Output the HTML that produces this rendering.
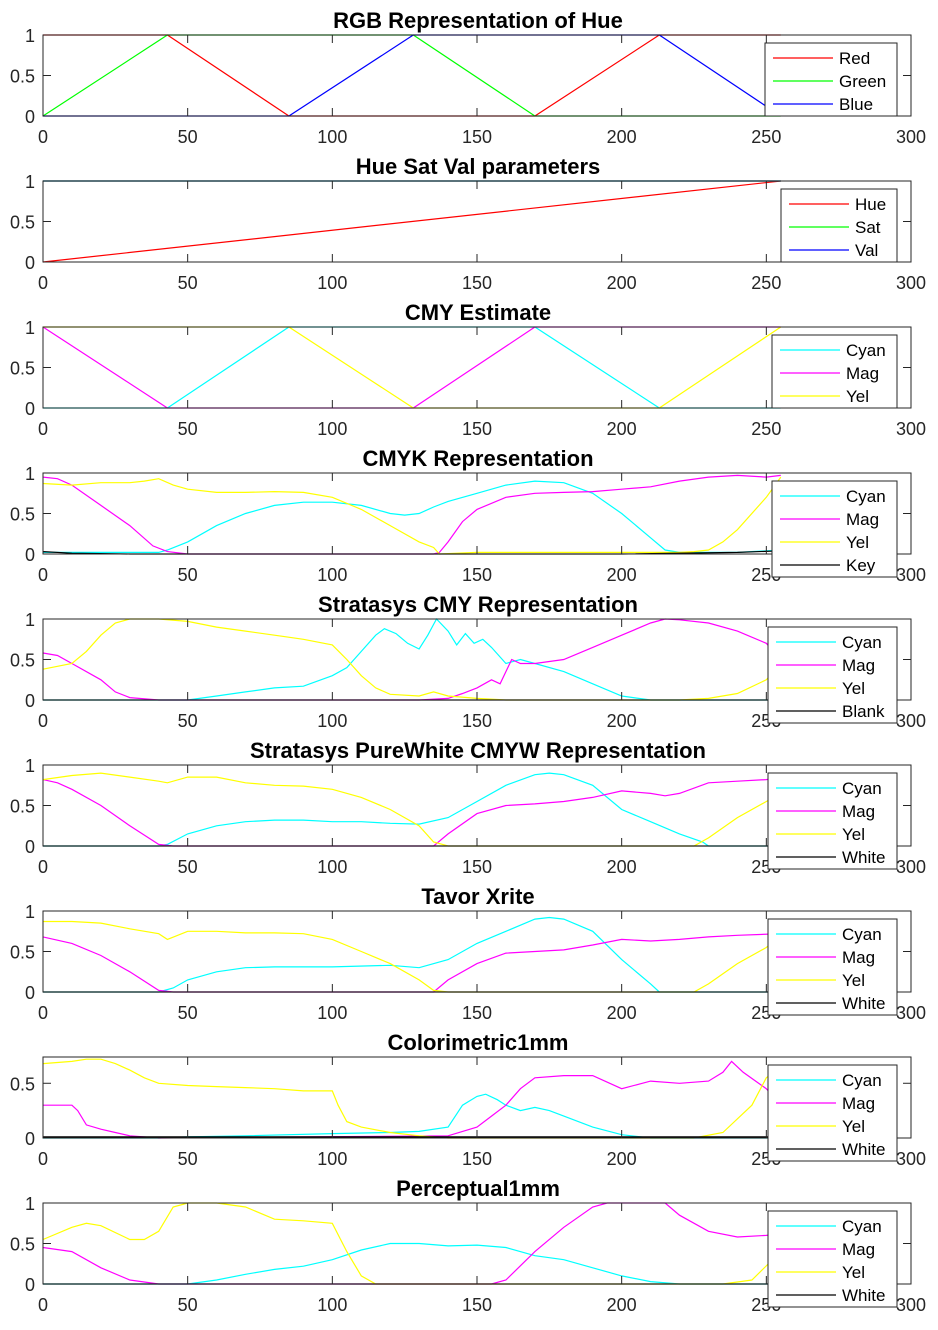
<!DOCTYPE html>
<html><head><meta charset="utf-8">
<style>
html,body{margin:0;padding:0;background:#fff;}
svg{display:block;font-family:"Liberation Sans",Arial,sans-serif;}
</style></head>
<body>
<svg id="fig" width="938" height="1330" viewBox="0 0 938 1330" xmlns="http://www.w3.org/2000/svg"></svg>
<script>
// ---- data ----
const xTicks = [0,50,100,150,200,250,300];
const yTicks = [0,0.5,1];
const yTickLabels = ["0","0.5","1"];
const titles = ["RGB Representation of Hue","Hue Sat Val parameters","CMY Estimate","CMYK Representation","Stratasys CMY Representation","Stratasys PureWhite CMYW Representation","Tavor Xrite","Colorimetric1mm","Perceptual1mm"];
const yMax = [1,1,1,1,1,1,1,0.74,1];

const p1Red = [[0,1],[43,1],[85,0],[170,0],[213,1],[255,1]];
const p1Green = [[0,0],[43,1],[128,1],[170,0],[255,0]];
const p1Blue = [[0,0],[85,0],[128,1],[213,1],[255,0]];

const p2Hue = [[0,0],[255,1]];
const p2Sat = [[0,1],[255,1]];
const p2Val = [[0,1],[255,1]];

const p3Cyan = [[0,0],[43,0],[85,1],[170,1],[213,0],[255,0]];
const p3Mag = [[0,1],[43,0],[128,0],[170,1],[255,1]];
const p3Yel = [[0,1],[85,1],[128,0],[213,0],[255,1]];

const p4Cyan = [[0,0.02],[40,0.02],[43,0.05],[50,0.15],[60,0.35],[70,0.5],[80,0.6],[90,0.64],[100,0.64],[110,0.6],[120,0.5],[125,0.48],[130,0.5],[135,0.58],[140,0.65],[150,0.75],[160,0.85],[170,0.9],[180,0.88],[190,0.75],[200,0.5],[210,0.2],[215,0.05],[220,0.02],[240,0.02],[255,0.05]];
const p4Mag = [[0,0.95],[5,0.93],[10,0.85],[20,0.6],[30,0.35],[38,0.1],[43,0.03],[50,0],[135,0],[137,0.02],[140,0.15],[145,0.4],[150,0.55],[160,0.7],[170,0.75],[180,0.76],[190,0.77],[200,0.8],[210,0.83],[220,0.9],[230,0.95],[240,0.97],[250,0.95],[255,0.97]];
const p4Yel = [[0,0.87],[10,0.85],[20,0.88],[30,0.88],[35,0.9],[40,0.93],[45,0.85],[50,0.8],[60,0.76],[70,0.76],[80,0.77],[90,0.76],[100,0.7],[110,0.55],[120,0.35],[130,0.15],[135,0.08],[137,0],[150,0.02],[220,0.02],[225,0.03],[230,0.05],[235,0.15],[240,0.3],[250,0.7],[255,0.95]];
const p4Key = [[0,0.03],[10,0.01],[30,0],[200,0],[240,0.02],[255,0.04]];

const p5Cyan = [[0,0],[50,0],[60,0.05],[70,0.1],[80,0.15],[90,0.17],[100,0.3],[105,0.4],[110,0.6],[115,0.8],[118,0.88],[122,0.82],[126,0.7],[130,0.63],[133,0.8],[136,1.0],[140,0.85],[143,0.68],[146,0.82],[149,0.7],[152,0.75],[155,0.65],[160,0.45],[165,0.5],[170,0.45],[180,0.35],[190,0.2],[200,0.05],[210,0],[255,0]];
const p5Mag = [[0,0.58],[5,0.55],[10,0.45],[20,0.25],[25,0.1],[30,0.03],[40,0],[130,0],[140,0.02],[145,0.08],[150,0.15],[155,0.25],[158,0.2],[162,0.5],[165,0.45],[170,0.45],[180,0.5],[190,0.65],[200,0.8],[210,0.95],[215,1.0],[220,0.99],[230,0.95],[240,0.85],[250,0.7],[255,0.5]];
const p5Yel = [[0,0.38],[10,0.45],[15,0.6],[20,0.8],[25,0.95],[30,1.0],[40,1.0],[50,0.97],[60,0.9],[70,0.85],[80,0.8],[90,0.75],[100,0.68],[105,0.5],[110,0.3],[115,0.15],[120,0.07],[130,0.05],[135,0.1],[140,0.05],[150,0.02],[160,0],[220,0],[230,0.02],[240,0.08],[250,0.25],[255,0.45]];
const p5Blank = [[0,0],[255,0]];

const p6Cyan = [[0,0],[40,0],[43,0.02],[50,0.15],[60,0.25],[70,0.3],[80,0.32],[90,0.32],[100,0.3],[110,0.3],[120,0.28],[130,0.27],[140,0.35],[150,0.55],[160,0.75],[170,0.88],[175,0.9],[180,0.88],[190,0.75],[200,0.45],[210,0.3],[220,0.15],[228,0.05],[230,0],[255,0]];
const p6Mag = [[0,0.82],[5,0.78],[10,0.7],[20,0.5],[30,0.25],[40,0.02],[45,0],[135,0],[140,0.15],[150,0.4],[160,0.5],[170,0.52],[180,0.55],[190,0.6],[200,0.68],[210,0.65],[215,0.62],[220,0.65],[230,0.78],[240,0.8],[250,0.82],[255,0.85]];
const p6Yel = [[0,0.82],[10,0.87],[20,0.9],[30,0.85],[40,0.8],[43,0.78],[50,0.85],[60,0.85],[70,0.78],[80,0.75],[90,0.74],[100,0.7],[110,0.6],[120,0.45],[130,0.25],[135,0.05],[140,0],[225,0],[230,0.1],[240,0.35],[250,0.55],[255,0.65]];
const p6White = [[0,0],[255,0]];

const p7Cyan = [[0,0],[40,0],[45,0.05],[50,0.15],[60,0.25],[70,0.3],[80,0.31],[100,0.31],[120,0.33],[130,0.3],[140,0.4],[150,0.6],[160,0.75],[170,0.9],[175,0.92],[180,0.9],[190,0.75],[200,0.4],[210,0.1],[213,0],[255,0]];
const p7Mag = [[0,0.68],[10,0.6],[20,0.45],[30,0.25],[40,0.02],[45,0],[135,0],[140,0.15],[150,0.35],[160,0.48],[170,0.5],[180,0.52],[190,0.58],[200,0.65],[210,0.63],[220,0.65],[230,0.68],[240,0.7],[255,0.72]];
const p7Yel = [[0,0.87],[10,0.87],[20,0.85],[30,0.78],[40,0.72],[43,0.65],[50,0.75],[60,0.75],[70,0.73],[80,0.73],[90,0.72],[100,0.65],[110,0.5],[120,0.35],[130,0.15],[135,0.02],[140,0],[225,0],[230,0.1],[240,0.35],[250,0.55],[255,0.7]];
const p7White = [[0,0],[255,0]];

const p8Cyan = [[0,0],[40,0],[50,0.01],[70,0.02],[100,0.04],[120,0.05],[130,0.06],[140,0.1],[145,0.3],[150,0.38],[153,0.4],[157,0.35],[160,0.3],[165,0.25],[170,0.28],[175,0.25],[180,0.2],[190,0.1],[200,0.03],[210,0],[255,0]];
const p8Mag = [[0,0.3],[10,0.3],[12,0.25],[15,0.12],[20,0.08],[25,0.05],[30,0.02],[40,0],[140,0.02],[150,0.1],[155,0.2],[160,0.3],[165,0.45],[170,0.55],[180,0.57],[190,0.57],[200,0.45],[210,0.52],[220,0.5],[230,0.52],[235,0.6],[238,0.7],[242,0.6],[250,0.45],[255,0.3]];
const p8Yel = [[0,0.68],[10,0.7],[15,0.72],[20,0.72],[25,0.68],[30,0.62],[35,0.55],[40,0.5],[50,0.48],[60,0.47],[70,0.46],[80,0.45],[90,0.43],[100,0.43],[102,0.3],[105,0.15],[110,0.1],[120,0.05],[130,0.02],[140,0],[225,0],[235,0.05],[245,0.3],[250,0.55],[255,0.65]];
const p8White = [[0,0.01],[255,0.01]];

const p9Cyan = [[0,0],[50,0],[60,0.05],[70,0.12],[80,0.18],[90,0.22],[100,0.3],[110,0.42],[120,0.5],[130,0.5],[140,0.47],[150,0.48],[160,0.45],[170,0.35],[180,0.3],[190,0.2],[200,0.1],[210,0.03],[220,0],[255,0]];
const p9Mag = [[0,0.45],[10,0.4],[20,0.2],[30,0.05],[40,0],[155,0],[160,0.05],[170,0.4],[180,0.7],[190,0.95],[195,1.0],[215,1.0],[220,0.85],[230,0.65],[240,0.58],[250,0.6],[255,0.62]];
const p9Yel = [[0,0.55],[10,0.7],[15,0.75],[20,0.72],[30,0.55],[35,0.55],[40,0.65],[45,0.95],[50,1.0],[60,1.0],[70,0.95],[80,0.8],[90,0.78],[100,0.75],[105,0.4],[110,0.1],[115,0],[235,0],[245,0.05],[255,0.4]];
const p9White = [[0,0],[255,0]];

const panels = [
 {series:[["Red","#ff0000",p1Red],["Green","#00ff00",p1Green],["Blue","#0000ff",p1Blue]], leg:[765,43]},
 {series:[["Hue","#ff0000",p2Hue],["Sat","#00ff00",p2Sat],["Val","#0000ff",p2Val]], leg:[781,43]},
 {series:[["Cyan","#00ffff",p3Cyan],["Mag","#ff00ff",p3Mag],["Yel","#ffff00",p3Yel]], leg:[772,43]},
 {series:[["Cyan","#00ffff",p4Cyan],["Mag","#ff00ff",p4Mag],["Yel","#ffff00",p4Yel],["Key","#000000",p4Key]], leg:[772,43]},
 {series:[["Cyan","#00ffff",p5Cyan],["Mag","#ff00ff",p5Mag],["Yel","#ffff00",p5Yel],["Blank","#000000",p5Blank]], leg:[768,43]},
 {series:[["Cyan","#00ffff",p6Cyan],["Mag","#ff00ff",p6Mag],["Yel","#ffff00",p6Yel],["White","#000000",p6White]], leg:[768,43]},
 {series:[["Cyan","#00ffff",p7Cyan],["Mag","#ff00ff",p7Mag],["Yel","#ffff00",p7Yel],["White","#000000",p7White]], leg:[768,43]},
 {series:[["Cyan","#00ffff",p8Cyan],["Mag","#ff00ff",p8Mag],["Yel","#ffff00",p8Yel],["White","#000000",p8White]], leg:[768,43]},
 {series:[["Cyan","#00ffff",p9Cyan],["Mag","#ff00ff",p9Mag],["Yel","#ffff00",p9Yel],["White","#000000",p9White]], leg:[768,43]}
];

// ---- drawing ----
const NS="http://www.w3.org/2000/svg";
const svg=document.getElementById('fig');
function mk(tag,attrs,parent){const e=document.createElementNS(NS,tag);for(const k in attrs)e.setAttribute(k,attrs[k]);(parent||svg).appendChild(e);return e;}
const X0=43,X1=911,H=81;
panels.forEach((p,i)=>{
  const top=35+146*i, bot=top+H;
  const g=mk('g',{});
  
  
  const xs=v=>X0+(v/300)*(X1-X0);
  const ys=v=>bot-(v/yMax[i])*H;
  const t=mk('text',{x:478,y:top-7,'text-anchor':'middle','font-size':'22','font-weight':'bold',fill:'#000'},g);
  t.textContent=titles[i];
  
  
  p.series.forEach(s=>{
    const pts=s[2].map(d=>xs(d[0]).toFixed(1)+','+ys(d[1]).toFixed(1)).join(' ');
    const pl=mk('polyline',{points:pts,fill:'none',stroke:s[1],'stroke-width':'1.2'},g);
    
    
  });
  const bx=mk('rect',{x:X0,y:top,width:X1-X0,height:H,fill:'none',stroke:'#262626','stroke-width':'1'},g);
  
  
  xTicks.forEach(v=>{
    const x=xs(v);
    mk('line',{x1:x,y1:bot,x2:x,y2:bot-8,stroke:'#262626'},g);
    mk('line',{x1:x,y1:top,x2:x,y2:top+8,stroke:'#262626'},g);
    const tl=mk('text',{x:x,y:bot+27,'text-anchor':'middle','font-size':'18',fill:'#262626'},g);
    tl.textContent=String(v);
    
    
  });
  yTicks.forEach((v,j)=>{
    if(v>yMax[i])return;
    const y=ys(v);
    mk('line',{x1:X0,y1:y,x2:X0+8,y2:y,stroke:'#262626'},g);
    mk('line',{x1:X1,y1:y,x2:X1-8,y2:y,stroke:'#262626'},g);
    const tl=mk('text',{x:35,y:y+7,'text-anchor':'end','font-size':'18',fill:'#262626'},g);
    tl.textContent=yTickLabels[j];
    
    
  });
  const lx=p.leg[0], ly=top+8, n=p.series.length;
  const lg=mk('g',{},g);
  
  
  mk('rect',{x:lx,y:ly,width:897-lx,height:n*23+4,fill:'#fff',stroke:'#262626','stroke-width':'1'},lg);
  p.series.forEach((s,k)=>{
    const yy=ly+15+23*k;
    const ent=mk('g',{},lg);
    
    
    mk('line',{x1:lx+8,y1:yy,x2:lx+68,y2:yy,stroke:s[1],'stroke-width':'1.2'},ent);
    const tt=mk('text',{x:lx+74,y:yy+6,'font-size':'17',fill:'#000'},ent);
    tt.textContent=s[0];
  });
});
</script>
</body></html>
